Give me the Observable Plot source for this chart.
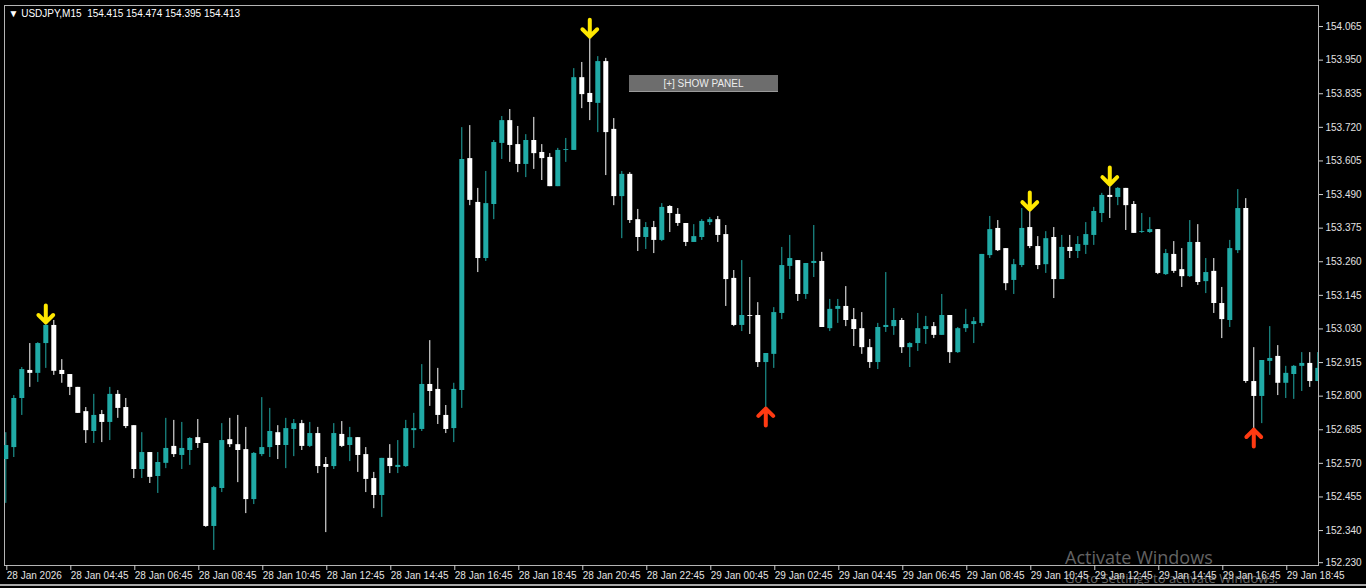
<!DOCTYPE html>
<html><head><meta charset="utf-8">
<script src="https://cdn.jsdelivr.net/npm/d3@7"></script>
<script src="https://cdn.jsdelivr.net/npm/@observablehq/plot@0.6"></script>
<style>
html,body{margin:0;padding:0;background:#000;overflow:hidden}
#wrap{position:relative;width:1366px;height:588px;background:#000}
.ovl{position:absolute;white-space:nowrap}
</style></head><body><div id="wrap"></div>
<script>
// ---- data: USDJPY M15, 165 bars starting 28 Jan 02:45 ----
const opens = [
152.583,152.624,152.792,152.888,152.878,152.980,153.042,152.888,152.874,152.830,
152.747,152.679,152.737,152.710,152.806,152.761,152.699,152.549,152.607,152.525,
152.570,152.628,152.597,152.614,152.658,152.638,152.354,152.484,152.651,152.634,
152.617,152.446,152.600,152.624,152.675,152.631,152.686,152.706,152.628,152.672,
152.566,152.559,152.669,152.631,152.658,152.600,152.518,152.460,152.587,152.556,
152.559,152.682,152.686,152.840,152.823,152.734,152.689,152.819,153.613,153.463,
153.271,153.456,153.665,153.743,153.661,153.593,153.675,153.634,153.617,153.517,
153.641,153.641,153.890,153.836,153.802,153.945,153.713,153.483,153.559,153.404,
153.343,153.377,153.333,153.449,153.422,153.391,153.326,153.343,153.394,153.404,
153.353,153.203,153.042,153.076,153.076,152.915,152.943,153.083,153.244,153.264,
153.148,153.254,153.261,153.031,153.097,153.107,153.062,153.031,152.966,152.915,
153.035,153.038,153.059,152.966,152.980,153.028,153.038,153.008,153.076,152.949,
153.031,153.045,153.049,153.281,153.374,153.305,153.196,153.247,153.377,153.312,
153.250,153.343,153.199,153.309,153.295,153.316,153.350,153.425,153.487,153.480,
153.511,153.456,153.360,153.360,153.370,153.216,153.285,153.233,153.209,153.326,
153.192,153.227,153.117,153.059,153.298,153.442,152.850,152.799,152.919,152.936,
152.844,152.874,152.902,152.912,152.850];
const highs = [
152.675,152.802,152.898,152.980,152.983,153.049,153.059,152.925,152.874,152.830,
152.761,152.806,152.751,152.830,152.819,152.792,152.699,152.675,152.607,152.607,
152.724,152.717,152.710,152.658,152.720,152.638,152.491,152.706,152.724,152.734,
152.693,152.607,152.795,152.758,152.699,152.724,152.720,152.717,152.710,152.693,
152.590,152.706,152.713,152.693,152.658,152.624,152.539,152.587,152.634,152.648,
152.717,152.741,152.908,152.990,152.895,152.768,152.844,153.719,153.726,153.511,
153.569,153.675,153.757,153.781,153.723,153.695,153.754,153.661,153.630,153.648,
153.682,153.921,153.942,154.027,153.962,153.956,153.750,153.569,153.565,153.439,
153.394,153.398,153.459,153.452,153.442,153.391,153.387,153.404,153.411,153.415,
153.384,153.230,153.264,153.206,153.120,152.946,153.103,153.309,153.350,153.264,
153.254,153.384,153.292,153.131,153.131,153.175,153.100,153.086,152.994,153.049,
153.223,153.100,153.066,152.983,153.083,153.073,153.052,153.148,153.076,153.035,
153.097,153.069,153.285,153.415,153.401,153.305,153.268,153.442,153.435,153.346,
153.363,153.377,153.350,153.350,153.346,153.394,153.446,153.494,153.521,153.514,
153.511,153.466,153.425,153.411,153.370,153.302,153.329,153.305,153.401,153.387,
153.271,153.271,153.172,153.333,153.507,153.476,152.966,152.922,153.038,152.973,
152.902,152.905,152.949,152.949,152.949];
const lows = [
152.433,152.590,152.734,152.830,152.847,152.895,152.871,152.844,152.802,152.741,
152.638,152.638,152.641,152.648,152.724,152.689,152.518,152.518,152.501,152.467,
152.552,152.590,152.549,152.563,152.621,152.351,152.272,152.470,152.624,152.504,
152.398,152.429,152.593,152.590,152.583,152.552,152.593,152.614,152.624,152.535,
152.333,152.549,152.624,152.576,152.539,152.470,152.415,152.385,152.535,152.535,
152.556,152.621,152.679,152.765,152.703,152.672,152.641,152.758,153.452,153.223,
153.261,153.404,153.610,153.600,153.565,153.548,153.576,153.538,153.517,153.517,
153.600,153.641,153.784,153.743,153.702,153.555,153.452,153.339,153.391,153.295,
153.302,153.288,153.329,153.360,153.381,153.312,153.326,153.333,153.384,153.326,
153.107,153.038,153.021,153.011,152.898,152.761,152.895,153.062,153.199,153.124,
153.131,153.206,153.035,153.021,153.049,153.038,152.970,152.943,152.895,152.891,
153.018,153.008,152.946,152.898,152.953,152.977,152.997,153.008,152.912,152.946,
153.018,152.980,153.038,153.271,153.295,153.161,153.148,153.240,153.305,153.233,
153.220,153.134,153.199,153.271,153.271,153.285,153.316,153.394,153.408,153.452,
153.367,153.357,153.357,153.357,153.216,153.213,153.220,153.172,153.206,153.179,
153.151,153.083,152.997,153.035,153.288,152.844,152.689,152.706,152.871,152.802,
152.792,152.789,152.816,152.830,152.850];
const closes = [
152.631,152.792,152.891,152.878,152.980,153.042,152.885,152.874,152.830,152.741,
152.682,152.734,152.710,152.806,152.758,152.696,152.549,152.607,152.522,152.573,
152.621,152.600,152.621,152.655,152.638,152.354,152.487,152.648,152.634,152.614,
152.446,152.604,152.624,152.679,152.631,152.689,152.706,152.628,152.672,152.559,
152.556,152.672,152.628,152.658,152.597,152.515,152.460,152.587,152.559,152.563,
152.689,152.689,152.840,152.816,152.734,152.686,152.823,153.610,153.470,153.271,
153.459,153.668,153.743,153.658,153.593,153.675,153.630,153.613,153.517,153.641,
153.644,153.890,153.832,153.805,153.945,153.702,153.483,153.559,153.401,153.343,
153.377,153.333,153.446,153.425,153.391,153.326,153.346,153.398,153.404,153.350,
153.199,153.042,153.076,153.073,152.915,152.946,153.086,153.247,153.271,153.148,
153.254,153.261,153.035,153.097,153.107,153.059,153.028,152.966,152.915,153.035,
153.042,153.059,152.966,152.980,153.031,153.038,153.008,153.076,152.949,153.031,
153.045,153.055,153.285,153.370,153.298,153.185,153.250,153.374,153.312,153.247,
153.339,153.199,153.309,153.295,153.319,153.353,153.432,153.487,153.480,153.511,
153.452,153.357,153.363,153.370,153.220,153.288,153.227,153.209,153.326,153.189,
153.223,153.117,153.062,153.305,153.442,152.850,152.799,152.922,152.929,152.844,
152.878,152.902,152.912,152.850,152.895];

const timeTickBars = [0,8,16,24,32,40,48,56,64,72,80,88,96,104,112,120,128,136,144,152,160];
const timeTickLabels = ["28 Jan 2026","28 Jan 04:45","28 Jan 06:45","28 Jan 08:45","28 Jan 10:45",
 "28 Jan 12:45","28 Jan 14:45","28 Jan 16:45","28 Jan 18:45","28 Jan 20:45","28 Jan 22:45",
 "29 Jan 00:45","29 Jan 02:45","29 Jan 04:45","29 Jan 06:45","29 Jan 08:45","29 Jan 10:45",
 "29 Jan 12:45","29 Jan 14:45","29 Jan 16:45","29 Jan 18:45"];
const priceTicks = [154.065,153.950,153.835,153.720,153.605,153.490,153.375,153.260,153.145,
 153.030,152.915,152.800,152.685,152.570,152.455,152.340,152.230];
const sellSignals = [5, 73, 128, 138];
const buySignals = [95, 156];
const title = "\u25BC USDJPY,M15  154.415 154.474 154.395 154.413";

// ---- build ----
const bars = opens.map((o, i) => ({i, open: o, high: highs[i], low: lows[i], close: closes[i]}));
const BULL = "#20aaa6", BEAR = "#ffffff";
const col = d => d.close >= d.open ? BULL : BEAR;
const labelOf = new Map(timeTickBars.map((b, k) => [b, timeTickLabels[k]]));

const chart = Plot.plot({
  width: 1366, height: 588,
  marginLeft: 4, marginRight: 48, marginTop: 5, marginBottom: 23,
  style: {background: "#000", color: "#e0e0e0", fontFamily: "'Liberation Sans', Arial, sans-serif", fontSize: "10px"},
  x: {domain: [-0.1625, 164.09], axis: null},
  y: {domain: [152.2204, 154.137], axis: null},
  marks: [
    Plot.frame({stroke: "#b4b4b4"}),
    Plot.axisY(priceTicks, {anchor: "right", label: null, tickSize: 4, tickPadding: 3,
      tickFormat: d => d.toFixed(3), stroke: "#cfcfcf", fill: "#e2e2e2", fontSize: 10}),
    Plot.axisX(timeTickBars, {anchor: "bottom", label: null, tickSize: 5, tickPadding: 1,
      tickFormat: d => labelOf.get(d), textAnchor: "start", dx: 1, stroke: "#cfcfcf", fill: "#e2e2e2", fontSize: 10}),
    Plot.ruleX(bars, {x: "i", y1: "low", y2: "high", stroke: col, strokeWidth: 1, clip: true}),
    Plot.ruleX(bars, {x: "i", y1: "open", y2: "close", stroke: col, strokeWidth: 5, strokeLinecap: "butt", clip: true}),
    Plot.vector(sellSignals, {x: d => d, y: d => highs[d], length: 17, rotate: 180, anchor: "end",
      r: 7.6, stroke: "#ffe800", strokeWidth: 4, dy: -1}),
    Plot.vector(buySignals, {x: d => d, y: d => lows[d], length: 17, rotate: 0, anchor: "end",
      r: 7.6, stroke: "#ff3a12", strokeWidth: 4, dy: 1}),
    Plot.text([title], {text: d => d, frameAnchor: "top-left", dx: 4, dy: 8, textAnchor: "start",
      lineAnchor: "middle", fill: "#ffffff", fontSize: 10})
  ]
});
const wrap = document.getElementById("wrap");
wrap.appendChild(chart);

function ovl(html, css) {
  const d = document.createElement("div");
  d.className = "ovl"; d.innerHTML = html; d.style.cssText += css;
  wrap.appendChild(d);
}
ovl("[+] SHOW PANEL", "left:629px;top:75px;width:149px;height:16px;background:#6d6d6d;border-bottom:1px solid #9a9a9a;color:#ececec;font:10px 'Liberation Sans',Arial,sans-serif;line-height:18px;text-align:center;");
ovl("Activate Windows", "left:1065px;top:545px;color:rgba(200,200,200,0.5);font:18px 'Open Sans','Noto Sans',sans-serif;");
ovl("Go to Settings to activate Windows.", "left:1065px;top:569px;color:rgba(200,200,200,0.5);font:13px 'Open Sans','Noto Sans',sans-serif;");
ovl("", "left:0;top:584px;width:1366px;height:2px;background:#a8a8a8;");
</script></body></html>
